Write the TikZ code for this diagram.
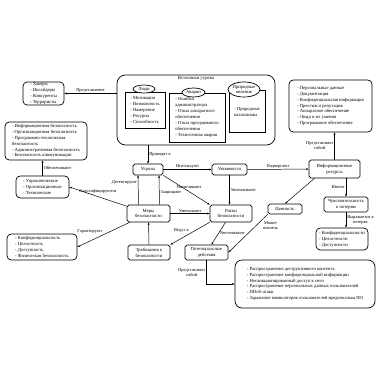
\documentclass[tikz,border=0pt]{standalone}
\usepackage{fontspec}
\setmainfont{Liberation Serif}
\usetikzlibrary{shapes.geometric, arrows.meta, calc}
\tikzset{
    listbox/.style={
        rectangle, draw, line width=1pt, rounded corners=6pt,
        align=left, inner sep=1pt
    },
    panel/.style={rectangle, draw, line width=1pt, align=left, inner sep=1pt},
    unitbox/.style={rectangle, draw, line width=1pt, rounded corners=2.5pt, align=center, inner sep=1pt},
    oval/.style={ellipse, draw, line width=1pt, fill=white, inner sep=0pt, align=center},
    line/.style={draw, -{Stealth[length=3.8pt, width=2.8pt]}, line width=0.7pt},
    tag/.style={font=\fontsize{6.3}{7.3}\selectfont, inner sep=1.5pt, align=center}
}

\begin{document}
\begin{tikzpicture}[x=0.05cm, y=-0.05cm, font=\fontsize{6.6}{8.4}\selectfont]
        \useasboundingbox (0, 0) rectangle (380, 380);
        % Layout
        \node [listbox, rounded corners=12pt, minimum width=7.9cm, minimum height=3.5cm,
               label={[anchor=north, inner sep=2pt]north:Источники угрозы}] (srcs) at (196, 110) {};
        \node [panel, minimum width=2cm, minimum height=1.8cm] (people) at (145, 110) {- Мотивация\\- Возможность\\- Намерение\\- Ресурсы\\- Способность};
        \node [oval, minimum width=1.1cm, minimum height=0.4cm] (peoplehead) at (144, 89) {Люди};
        \node [panel, minimum width=2.8cm, minimum height=2.45cm] (accidents) at (197, 117.5) {- Ошибка\\администратора\\- Отказ аппаратного\\обеспечения\\- Отказ программного\\обеспечения\\- Техногенная авария};
        \node [oval, minimum width=1.15cm, minimum height=0.45cm] (accidentshead) at (193.5, 92.5) {Аварии};
        \node [panel, minimum width=1.8cm, minimum height=2.1cm,
               label={[anchor=north, align=left, yshift=-0.75cm]north:- Природные\\катаклизмы}] (nature) at (247, 111) {};
        \node [oval, minimum width=1.6cm, minimum height=0.75cm] (naturehead) at (244, 89.5) {Природные\\явления};

        \node [listbox, minimum width=2.05cm, minimum height=1.15cm] (actors) at (43.5, 93.5) {- Хакеры\\- Инсайдеры\\- Конкуренты\\- Террористы};
        \node [listbox, minimum width=4.15cm, minimum height=2.6cm] (assets) at (330.5, 106) {- Персональные данные\\- Документация\\- Конфиденциальная информация\\- Престиж и репутация\\- Аппаратное обеспечение\\- Люди и их умения\\- Программное обеспечение};
        \node [unitbox, minimum width=2.55cm, minimum height=0.9cm] (res) at (334.5, 169) {Информационные\\ресурсы};
        \node [unitbox, minimum width=1.75cm, minimum height=0.55cm] (vuln) at (229.5, 169.5) {Уязвимости};
        \node [unitbox, minimum width=1.5cm, minimum height=0.55cm] (threats) at (148, 169.5) {Угрозы};
        \node [unitbox, minimum width=2.15cm, minimum height=0.85cm] (measures) at (148.5, 213.5) {Меры\\безопасности};
        \node [unitbox, minimum width=2.1cm, minimum height=0.85cm] (risks) at (231, 213.5) {Риски\\безопасности};
        \node [unitbox, minimum width=2.1cm, minimum height=0.75cm] (reqs) at (149, 252.5) {Требования к\\безопасности};
        \node [unitbox, minimum width=2.15cm, minimum height=0.75cm] (actions) at (206.5, 252.5) {Потенциальные\\действия};
        \node [unitbox, minimum width=1.7cm, minimum height=0.5cm] (value) at (285, 209) {Ценность};
        \node [unitbox, minimum width=2.2cm, minimum height=0.75cm] (sens) at (346, 204.5) {Чувствительность\\к потерям};
        \node [listbox, minimum width=2.6cm, minimum height=1.1cm] (lossbox) at (342, 239) {- Конфиденциальности\\- Целостности\\- Доступности};
        \node [listbox, rounded corners=10pt, minimum width=7cm, minimum height=2.4cm] (actbox) at (305, 284) {- Распространение деструктивного контента\\- Распространение конфиденциальной информации\\- Несанкционированный доступ к сети\\- Распространение персональных данных пользователей\\- DDoS-атаки\\- Заражение компьютеров пользователей вредоносным ПО};
        \node [listbox, minimum width=4.1cm, minimum height=1.9cm] (secbox) at (46, 141) {- Информационная безопасность\\- Организационная безопасность\\- Программно-техническая\\безопасность\\- Административная безопасность\\- Безопасность коммуникации};
        \node [listbox, minimum width=2.65cm, minimum height=1.1cm] (mgmt) at (42.5, 187) {- Управленческие\\- Организационные\\- Технические};
        \node [listbox, minimum width=3.5cm, minimum height=1.3cm] (goals) at (42, 247) {- Конфиденциальность\\- Целостность\\- Доступность\\- Физическая безопасность};

        % Flows
        \draw [line] (srcs.west |- actors) -- (actors) node [tag, midway, above] {Представление};
        \draw [line] (srcs.south -| threats) -- (threats) node [tag, midway, right] {Приводят к};
        \draw [line] (threats) -- (vuln) node [tag, midway, above] {Используют};
        \draw [line] (vuln) -- (res) node [tag, midway, above] {Подвергают};
        \draw [line] (res.north) -- (res.north |- assets.south) node [tag, midway, left] {Представляют\\собой};
        \draw [line] (res.-155) -- (value.north);
        \draw [line] (res.south -| sens) -- (sens) node [tag, midway, left] {Имеют};
        \draw [line] (sens.south) -- (sens.south |- lossbox.north) node [tag, midway, right] {Выражается в\\потерях};
        \draw [line] (value.south west) -- (actions.east) node [tag, pos=0.15, anchor=north west] {Может\\повлечь};
        \draw [line] ($(measures.north)+(-10,0)$) -- ($(threats.south)+(-10,0)$) node [tag, pos=0.75, left] {Детектируют};
        \draw [line] ($(measures.north)+(11,0)$) -- ($(threats.south)+(11,0)$) node [tag, pos=0.4, right] {Защищают};
        \draw [line] (threats.south east) -- (risks.north west) node [tag, pos=0.55, above=2pt] {Увеличивают};
        \draw [line] (vuln.south) -- (vuln.south |- risks.north) node [tag, midway, right] {Увеличивают};
        \draw [line] (measures) -- (risks) node [tag, midway, above] {Уменьшают};
        \draw [line] (risks.south west) -- (reqs.north east) node [tag, midway, above left] {Ведут к};
        \draw [line] (reqs) -- (measures);
        \draw [line] (risks) -- (actions) node [tag, midway, right] {Увеличивают};
        \draw [line] (actions) |- (actbox) node [tag, pos=0.25, left] {Представляют\\собой};
        \draw [line] (mgmt.north) -- (mgmt.north |- secbox.south) node [tag, midway, right] {Обеспечивают};
        \draw [line] (measures) -- (mgmt.east) node [tag, midway, above=3pt] {Классифицируются};
        \draw [line] (measures) -- (goals.east) node [tag, midway, above left] {Гарантируют};
    \end{tikzpicture}
\end{document}
